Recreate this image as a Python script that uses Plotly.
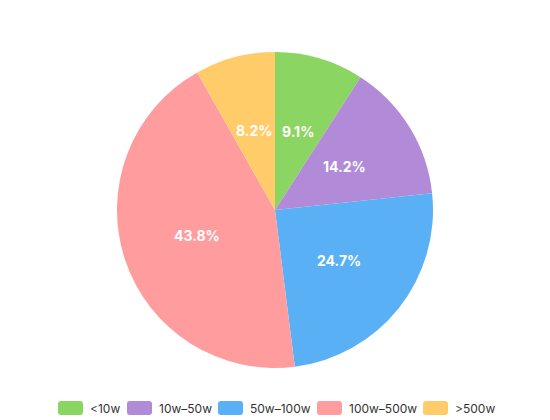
import math
import plotly.graph_objects as go

categories = ['<10w', '10w–50w', '50w–100w', '100w–500w', '>500w']
values = [9.1, 14.2, 24.7, 43.8, 8.2]
colors = ['#8bd562', '#b18bd8', '#5ab0f5', '#ff9c9e', '#ffcc69']

# the page body adds an 8px margin, so the figure is drawn 8px smaller
OFF = 8
W, H = 550 - OFF, 420 - OFF
cx, cy, r = 275, 210, 158  # pie centre and radius in window pixels

def px(x):
    return (x - OFF) / W

def py(y):
    return 1 - (y - OFF) / H

fig = go.Figure(go.Pie(
    labels=categories,
    values=values,
    sort=False,
    direction='clockwise',
    rotation=0,
    marker=dict(colors=colors, line=dict(width=0)),
    textinfo='none',
    hoverinfo='label+percent',
    domain=dict(x=[px(cx - r), px(cx + r)], y=[py(cy + r), py(cy - r)]),
))

# percentage labels at about half radius, like the original
total = sum(values)
cum = 0
for v in values:
    mid = (cum + v / 2) / total * 2 * math.pi
    cum += v
    lx = cx + 0.52 * r * math.sin(mid)
    ly = cy - 0.52 * r * math.cos(mid)
    fig.add_annotation(x=px(lx), y=py(ly), xref='paper', yref='paper',
                       text=f'{v / total * 100:.1f}%', showarrow=False,
                       xanchor='center', yanchor='middle',
                       font=dict(size=14, color='white', weight='bold'))

# custom legend with rounded swatches
swatch_x = [58, 127, 218, 317, 423]
sw, sh, rad = 25, 14, 3
top = 401
for c, name, x0 in zip(colors, categories, swatch_x):
    x1, y0, y1 = x0 + sw, top, top + sh
    pts = [
        f'M {px(x0 + rad)},{py(y0)}',
        f'L {px(x1 - rad)},{py(y0)}',
        f'Q {px(x1)},{py(y0)} {px(x1)},{py(y0 + rad)}',
        f'L {px(x1)},{py(y1 - rad)}',
        f'Q {px(x1)},{py(y1)} {px(x1 - rad)},{py(y1)}',
        f'L {px(x0 + rad)},{py(y1)}',
        f'Q {px(x0)},{py(y1)} {px(x0)},{py(y1 - rad)}',
        f'L {px(x0)},{py(y0 + rad)}',
        f'Q {px(x0)},{py(y0)} {px(x0 + rad)},{py(y0)}',
        'Z',
    ]
    fig.add_shape(type='path', path=' '.join(pts), xref='paper', yref='paper',
                  fillcolor=c, line=dict(width=0))
    fig.add_annotation(x=px(x1 + 5), y=py(top + sh / 2), xref='paper', yref='paper',
                       text=name, showarrow=False, xanchor='left', yanchor='middle',
                       font=dict(size=12, color='#333'))

fig.update_layout(
    width=W, height=H,
    margin=dict(l=0, r=0, t=0, b=0),
    paper_bgcolor='white',
    showlegend=False,
    font=dict(family='Inter, Noto Sans, sans-serif', size=12, color='#333'),
)

fig.write_html('out.html')
